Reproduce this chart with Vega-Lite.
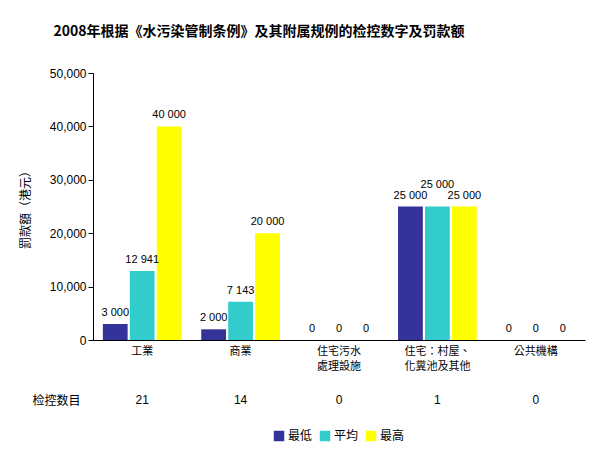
{
  "$schema": "https://vega.github.io/schema/vega-lite/v6.json",
  "width": 492,
  "height": 267,
  "autosize": {"type": "none"},
  "padding": {"left": 93, "top": 73, "right": 16, "bottom": 115},
  "background": "white",
  "title": {
    "text": "2008年根据《水污染管制条例》及其附属规例的检控数字及罚款额",
    "font": "Noto Sans CJK SC",
    "fontSize": 14,
    "fontWeight": "bold",
    "color": "black",
    "anchor": "middle",
    "dx": -80,
    "offset": 28
  },
  "datasets": {
    "fines": [
      {"category": "工業", "group": "最低", "value": 3000},
      {"category": "工業", "group": "平均", "value": 12941},
      {"category": "工業", "group": "最高", "value": 40000},
      {"category": "商業", "group": "最低", "value": 2000},
      {"category": "商業", "group": "平均", "value": 7143},
      {"category": "商業", "group": "最高", "value": 20000},
      {"category": "住宅污水處理設施", "group": "最低", "value": 0},
      {"category": "住宅污水處理設施", "group": "平均", "value": 0},
      {"category": "住宅污水處理設施", "group": "最高", "value": 0},
      {"category": "住宅：村屋、化糞池及其他", "group": "最低", "value": 25000},
      {"category": "住宅：村屋、化糞池及其他", "group": "平均", "value": 25000},
      {"category": "住宅：村屋、化糞池及其他", "group": "最高", "value": 25000},
      {"category": "公共機構", "group": "最低", "value": 0},
      {"category": "公共機構", "group": "平均", "value": 0},
      {"category": "公共機構", "group": "最高", "value": 0}
    ],
    "counts": [
      {"category": "工業", "count": 21},
      {"category": "商業", "count": 14},
      {"category": "住宅污水處理設施", "count": 0},
      {"category": "住宅：村屋、化糞池及其他", "count": 1},
      {"category": "公共機構", "count": 0}
    ]
  },
  "encoding": {
    "x": {
      "field": "category",
      "type": "nominal",
      "sort": null,
      "scale": {"paddingInner": 0.2, "paddingOuter": 0.1},
      "axis": {
        "title": "检控数目",
        "titleAnchor": "start",
        "titleAlign": "left",
        "titleBaseline": "middle",
        "titleX": -61,
        "titleY": 60,
        "titleFontWeight": "normal",
        "titleFontSize": 12,
        "titleFont": "Noto Sans CJK TC",
        "labelFont": "Noto Sans CJK TC",
        "labelAngle": 0,
        "ticks": false,
        "labelPadding": 5,
        "labelFontSize": 11,
        "labelLineHeight": 15,
        "labelExpr": "datum.value == '住宅污水處理設施' ? ['住宅污水', '處理設施'] : datum.value == '住宅：村屋、化糞池及其他' ? ['住宅：村屋、', '化糞池及其他'] : datum.value",
        "domainColor": "black",
        "labelColor": "black"
      }
    }
  },
  "layer": [
    {
      "data": {"name": "fines"},
      "mark": {"type": "bar"},
      "encoding": {
        "xOffset": {
          "field": "group",
          "type": "nominal",
          "sort": ["最低", "平均", "最高"],
          "scale": {"paddingInner": 0.08}
        },
        "y": {
          "field": "value",
          "type": "quantitative",
          "scale": {"domain": [0, 50000], "nice": false},
          "axis": {
            "title": "罰款額（港元）",
            "titleFontWeight": "normal",
            "titleFontSize": 12,
            "titleFont": "Noto Sans CJK TC",
            "titlePadding": 17,
            "tickCount": 5,
            "grid": false,
            "format": ",d",
            "labelFont": "Liberation Sans",
            "labelFontSize": 12,
            "tickSize": 5,
            "domainColor": "black",
            "tickColor": "black",
            "labelColor": "black"
          }
        },
        "color": {
          "field": "group",
          "type": "nominal",
          "sort": ["最低", "平均", "最高"],
          "scale": {
            "domain": ["最低", "平均", "最高"],
            "range": ["#333399", "#33CCCC", "#FFFF00"]
          },
          "legend": {
            "title": null,
            "orient": "none",
            "direction": "horizontal",
            "legendX": 180,
            "legendY": 357,
            "symbolType": "square",
            "symbolSize": 110,
            "symbolStrokeWidth": 0,
            "symbolOpacity": 1,
            "labelFontSize": 12,
            "labelFont": "Noto Sans CJK TC",
            "labelColor": "black",
            "columnPadding": 6,
            "labelOffset": 3
          }
        }
      }
    },
    {
      "data": {"name": "fines"},
      "transform": [
        {"filter": "!(datum.category == '住宅：村屋、化糞池及其他' && datum.group == '平均')"},
        {"calculate": "replace(format(datum.value, ','), ',', ' ')", "as": "label"}
      ],
      "mark": {"type": "text", "baseline": "bottom", "dy": -6, "font": "Liberation Sans", "fontSize": 11, "color": "black"},
      "encoding": {
        "xOffset": {
          "field": "group",
          "type": "nominal",
          "sort": ["最低", "平均", "最高"],
          "scale": {"paddingInner": 0.08}
        },
        "y": {"field": "value", "type": "quantitative"},
        "text": {"field": "label"}
      }
    },
    {
      "data": {"name": "fines"},
      "transform": [
        {"filter": "datum.category == '住宅：村屋、化糞池及其他' && datum.group == '平均'"},
        {"calculate": "replace(format(datum.value, ','), ',', ' ')", "as": "label"}
      ],
      "mark": {"type": "text", "baseline": "bottom", "dy": -17, "font": "Liberation Sans", "fontSize": 11, "color": "black"},
      "encoding": {
        "xOffset": {
          "field": "group",
          "type": "nominal",
          "sort": ["最低", "平均", "最高"],
          "scale": {"paddingInner": 0.08}
        },
        "y": {"field": "value", "type": "quantitative"},
        "text": {"field": "label"}
      }
    },
    {
      "data": {"name": "counts"},
      "mark": {"type": "text", "baseline": "middle", "font": "Liberation Sans", "fontSize": 12, "color": "black"},
      "encoding": {
        "y": {"datum": -11200},
        "text": {"field": "count"}
      }
    }
  ],
  "config": {
    "view": {"stroke": null}
  }
}
